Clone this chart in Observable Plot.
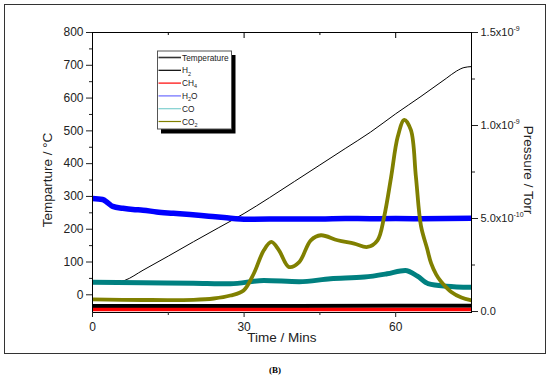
<!DOCTYPE html>
<html><head><meta charset="utf-8">
<script src="https://cdn.jsdelivr.net/npm/d3@7"></script>
<script src="https://cdn.jsdelivr.net/npm/@observablehq/plot@0.6"></script>
<style>body{margin:0;background:#fff} #chart{width:550px;height:376px}</style>
</head><body><div id="chart"></div>
<script>
// ---- data (time in minutes) ----
const tempTime = [0, 4, 6.4, 10, 15, 20, 25, 30, 35, 40, 45, 50, 55, 60, 65, 70, 72, 73.5, 75];
const tempC    = [35, 36, 44, 75, 118, 162, 205, 248, 296, 346, 396, 446, 496, 552, 605, 660, 682, 693, 696];

const h2Time = [0, 20, 40, 60, 75];
const h2P    = [2.9e-11, 2.9e-11, 3.0e-11, 3.1e-11, 3.1e-11];

const ch4Time = [0, 75];
const ch4P    = [1.1e-11, 1.1e-11];

const h2oTime = [0, 2, 3, 4, 6, 8, 10, 12.7, 16, 19.3, 23, 26, 30.6, 35, 40, 45, 50, 55, 60, 65, 70, 75];
const h2oP    = [6.07e-10, 6.02e-10, 5.85e-10, 5.65e-10, 5.55e-10, 5.48e-10, 5.45e-10, 5.35e-10, 5.28e-10, 5.21e-10, 5.12e-10, 5.05e-10, 4.96e-10, 4.97e-10, 4.98e-10, 4.98e-10, 5.0e-10, 4.99e-10, 5.0e-10, 4.99e-10, 5.0e-10, 5.02e-10];

const coTime = [0, 10, 20, 27.3, 33.9, 40.9, 47.1, 53.8, 58.3, 61.9, 64.3, 66.4, 70, 75];
const coP    = [1.58e-10, 1.55e-10, 1.52e-10, 1.49e-10, 1.67e-10, 1.60e-10, 1.76e-10, 1.85e-10, 2.03e-10, 2.21e-10, 1.9e-10, 1.5e-10, 1.36e-10, 1.3e-10];

const co2Time = [0, 10, 20, 24, 27.3, 29.9, 31.9, 33.9, 35.4, 36.9, 38.9, 40.9, 43.2, 45.2, 48.5, 51.8, 54.4, 56.4, 57.7, 59.1, 60.4, 61.7, 63.0, 64.0, 65.0, 66.2, 67, 68, 69, 71, 73, 75];
const co2P    = [6.5e-11, 6.2e-11, 6.3e-11, 7.0e-11, 8.6e-11, 1.13e-10, 2.03e-10, 3.29e-10, 3.74e-10, 3.29e-10, 2.39e-10, 2.66e-10, 3.83e-10, 4.10e-10, 3.83e-10, 3.65e-10, 3.47e-10, 3.83e-10, 5.08e-10, 7.24e-10, 9.39e-10, 1.03e-9, 9.76e-10, 7.24e-10, 4.6e-10, 3.4e-10, 2.6e-10, 2.0e-10, 1.6e-10, 1.05e-10, 7.5e-11, 6.0e-11];

const leftTicks  = [0, 100, 200, 300, 400, 500, 600, 700, 800];
const leftMinor  = [50, 150, 250, 350, 450, 550, 650, 750];
const rightTicks = [0, 5e-10, 1e-9, 1.5e-9];
const rightLabels = ["0.0", "5.0x10^-10", "1.0x10^-9", "1.5x10^-9"];
const rightMinor = [2.5e-10, 7.5e-10, 1.25e-9];
const xTicks = [0, 30, 60];
const xMinor = [15, 45];

const legendNames = [["Temperature"], ["H", "2"], ["CH", "4"], ["H", "2", "O"], ["CO"], ["CO", "2"]];
const legendColors = ["#333333", "#000000", "#ff0000", "#6b6bff", "#7fd0d0", "#808000"];

// ---- scale mapping: pressure (right axis) onto the temperature (left) scale ----
const Y_MIN = -54, Y_MAX = 800, P_ZERO = -51, P_MAX = 1.5e-9;
const toLeft = p => P_ZERO + p / P_MAX * (Y_MAX - P_ZERO);
const rows = (ts, vs, f = v => v) => ts.map((t, i) => ({t, v: f(vs[i])}));

const temp = rows(tempTime, tempC);
const h2 = rows(h2Time, h2P, toLeft);
const ch4 = rows(ch4Time, ch4P, toLeft);
const h2o = rows(h2oTime, h2oP, toLeft);
const co = rows(coTime, coP, toLeft);
const co2 = rows(co2Time, co2P, toLeft);

const rightMap = new Map(rightTicks.map((p, i) => [toLeft(p), rightLabels[i]]));

const plot = Plot.plot({
  width: 550, height: 376,
  marginLeft: 92, marginRight: 79, marginTop: 32, marginBottom: 64,
  style: {fontFamily: "'Liberation Sans', Arial, sans-serif", fontSize: "12px", color: "#222", background: "#fff"},
  x: {domain: [0, 75]},
  y: {domain: [Y_MIN, Y_MAX]},
  marks: [
    Plot.line(temp, {x: "t", y: "v", stroke: "#000", strokeWidth: 1, curve: "monotone-x", clip: true}),
    Plot.line(h2, {x: "t", y: "v", stroke: "#000", strokeWidth: 4, clip: true}),
    Plot.line(ch4, {x: "t", y: "v", stroke: "#ff0000", strokeWidth: 3.5, clip: true}),
    Plot.line(h2o, {x: "t", y: "v", stroke: "#0000ff", strokeWidth: 5.5, curve: "monotone-x", clip: true}),
    Plot.line(co, {x: "t", y: "v", stroke: "#008080", strokeWidth: 5, curve: "monotone-x", clip: true}),
    Plot.line(co2, {x: "t", y: "v", stroke: "#808000", strokeWidth: 3.8, curve: "catmull-rom", clip: true}),
    Plot.frame({stroke: "#000"}),
    Plot.axisY({ticks: leftTicks, tickSize: 6, tickPadding: 3, label: null}),
    Plot.axisY({ticks: leftMinor, tickSize: 3, tickFormat: () => "", label: null}),
    Plot.axisY({anchor: "right", ticks: rightTicks.map(toLeft), tickSize: 6, tickPadding: 3, tickFormat: d => rightMap.get(d), label: null, fontSize: 11}),
    Plot.axisY({anchor: "right", ticks: rightMinor.map(toLeft), tickSize: 3, tickFormat: () => "", label: null}),
    Plot.axisX({ticks: xTicks, tickSize: 5, tickPadding: 5, label: null}),
    Plot.axisX({ticks: xMinor, tickSize: 3, tickFormat: () => "", label: null}),
    // inward ticks along the top edge
    Plot.tickX([30, 60], {x: d => d, stroke: "#000", insetBottom: 274}),
    Plot.tickX(xMinor, {x: d => d, stroke: "#000", insetBottom: 277})
  ]
});
document.getElementById("chart").appendChild(plot);

// ---- decorations: outer frame, axis titles, legend, caption ----
const svg = d3.select(plot);
const font = "'Liberation Sans', Arial, sans-serif";

// superscript exponents on the right axis labels
svg.selectAll("text").each(function () {
  const s = this.textContent;
  if (s.includes("^")) {
    const [base, exp] = s.split("^");
    const t = d3.select(this);
    t.text(null);
    t.append("tspan").text(base);
    t.append("tspan").attr("font-size", 7).attr("dy", -5).text(exp);
  }
});

svg.insert("rect", ":first-child").attr("x", 4.5).attr("y", 4.5).attr("width", 541).attr("height", 349)
  .attr("fill", "#fff").attr("stroke", "#333").attr("stroke-width", 1);

svg.append("text").attr("transform", "translate(51.5,180) rotate(-90)").attr("text-anchor", "middle")
  .attr("font-family", font).attr("font-size", 13.5).attr("fill", "#222").text("Temparture / °C");
svg.append("text").attr("transform", "translate(524,170) rotate(90)").attr("text-anchor", "middle")
  .attr("font-family", font).attr("font-size", 13.5).attr("fill", "#222").text("Pressure / Torr");
svg.append("text").attr("x", 282).attr("y", 342).attr("text-anchor", "middle")
  .attr("font-family", font).attr("font-size", 13.5).attr("fill", "#222").text("Time / Mins");
svg.append("text").attr("x", 275).attr("y", 373).attr("text-anchor", "middle")
  .attr("font-family", "'Liberation Serif', 'Times New Roman', serif").attr("font-weight", "bold")
  .attr("font-size", 9).attr("fill", "#000").text("(B)");

const lg = svg.append("g").attr("font-family", font).attr("fill", "#222").attr("text-anchor", "start");
lg.append("rect").attr("x", 161).attr("y", 55).attr("width", 74.5).attr("height", 78.5).attr("fill", "#000");
lg.append("rect").attr("x", 157.5).attr("y", 51).attr("width", 74).attr("height", 78).attr("fill", "#fff").attr("stroke", "#555");
legendNames.forEach((parts, i) => {
  const y = 57.5 + i * 12.8;
  lg.append("line").attr("x1", 158.5).attr("x2", 181).attr("y1", y).attr("y2", y)
    .attr("stroke", legendColors[i]).attr("stroke-width", i === 0 ? 1.6 : 1.2);
  const t = lg.append("text").attr("x", 182).attr("y", y + 3).attr("text-anchor", "start").attr("font-size", 8.3);
  parts.forEach((s, j) => {
    const sub = j === 1;
    t.append("tspan").attr("font-size", sub ? 5.5 : 8.3).attr("dy", j === 0 ? 0 : (sub ? 2.2 : -2.2)).text(s);
  });
});
</script></body></html>
